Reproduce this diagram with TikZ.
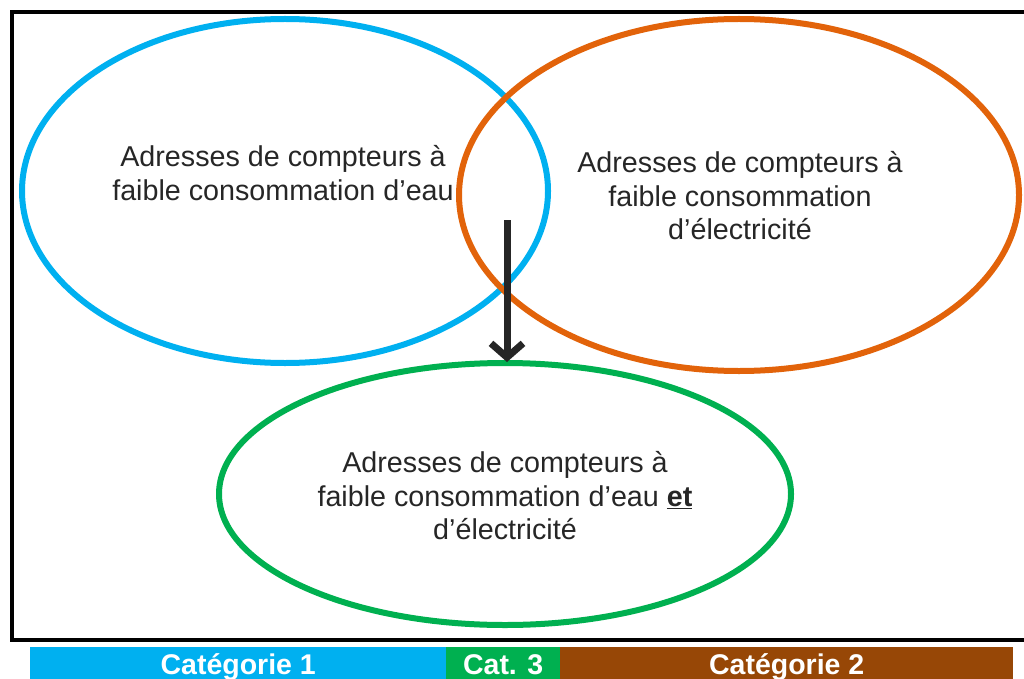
\documentclass[tikz,border=0pt]{standalone}
\usepackage{fontspec}
\setmainfont{Liberation Sans}
\usetikzlibrary{arrows.meta}
\definecolor{cblue}{HTML}{00B0F0}
\definecolor{corange}{HTML}{E2630A}
\definecolor{cgreen}{HTML}{00B050}
\definecolor{cbrown}{HTML}{974706}
\definecolor{ctext}{HTML}{262626}
\tikzset{
  setell/.style={draw=#1, line width=6pt},
  lbl/.style={align=center, text=ctext, font=\fontsize{28.7}{33.5}\selectfont},
  barbox/.style={fill=#1, inner sep=0pt, text=white, text height=21pt, text depth=0pt, font=\bfseries\fontsize{28.5}{30}\selectfont},
}
\begin{document}
\begin{tikzpicture}[x=1pt,y=-1pt]
\useasboundingbox (0,0) rectangle (1024,679);
\draw[line width=4pt] (1030,12) -- (12,12) -- (12,640) -- (1030,640);
\draw[setell=cblue] (285,191) ellipse [x radius=263, y radius=172];
\draw[setell=corange] (739,195) ellipse [x radius=280, y radius=176];
\draw[setell=cgreen] (505,494) ellipse [x radius=286, y radius=131];
\node[lbl] (t1) at (283,173) {Adresses de compteurs à\\faible consommation d’eau};
\node[lbl] (t2) at (740,196) {Adresses de compteurs à\\faible consommation\\d’électricité};
\node[lbl] (t3) at (505,496) {Adresses de compteurs à\\faible consommation d’eau \underline{\textbf{et}}\\d’électricité};
\coordinate (a1) at (507,220);
\coordinate (a2) at (507,362);
\draw[line width=7pt, color=ctext, -{Straight Barb[length=14pt, width=32pt, line width=7pt]}] (a1) -- (a2);
\node[barbox=cblue, minimum width=416, minimum height=34, anchor=north west] (b1) at (30,647) {Catégorie 1};
\node[barbox=cgreen, minimum width=114, minimum height=34, anchor=north west] (b3) at (446,647) {Cat. 3};
\node[barbox=cbrown, minimum width=453, minimum height=34, anchor=north west] (b2) at (560,647) {Catégorie 2};
\end{tikzpicture}
\end{document}
